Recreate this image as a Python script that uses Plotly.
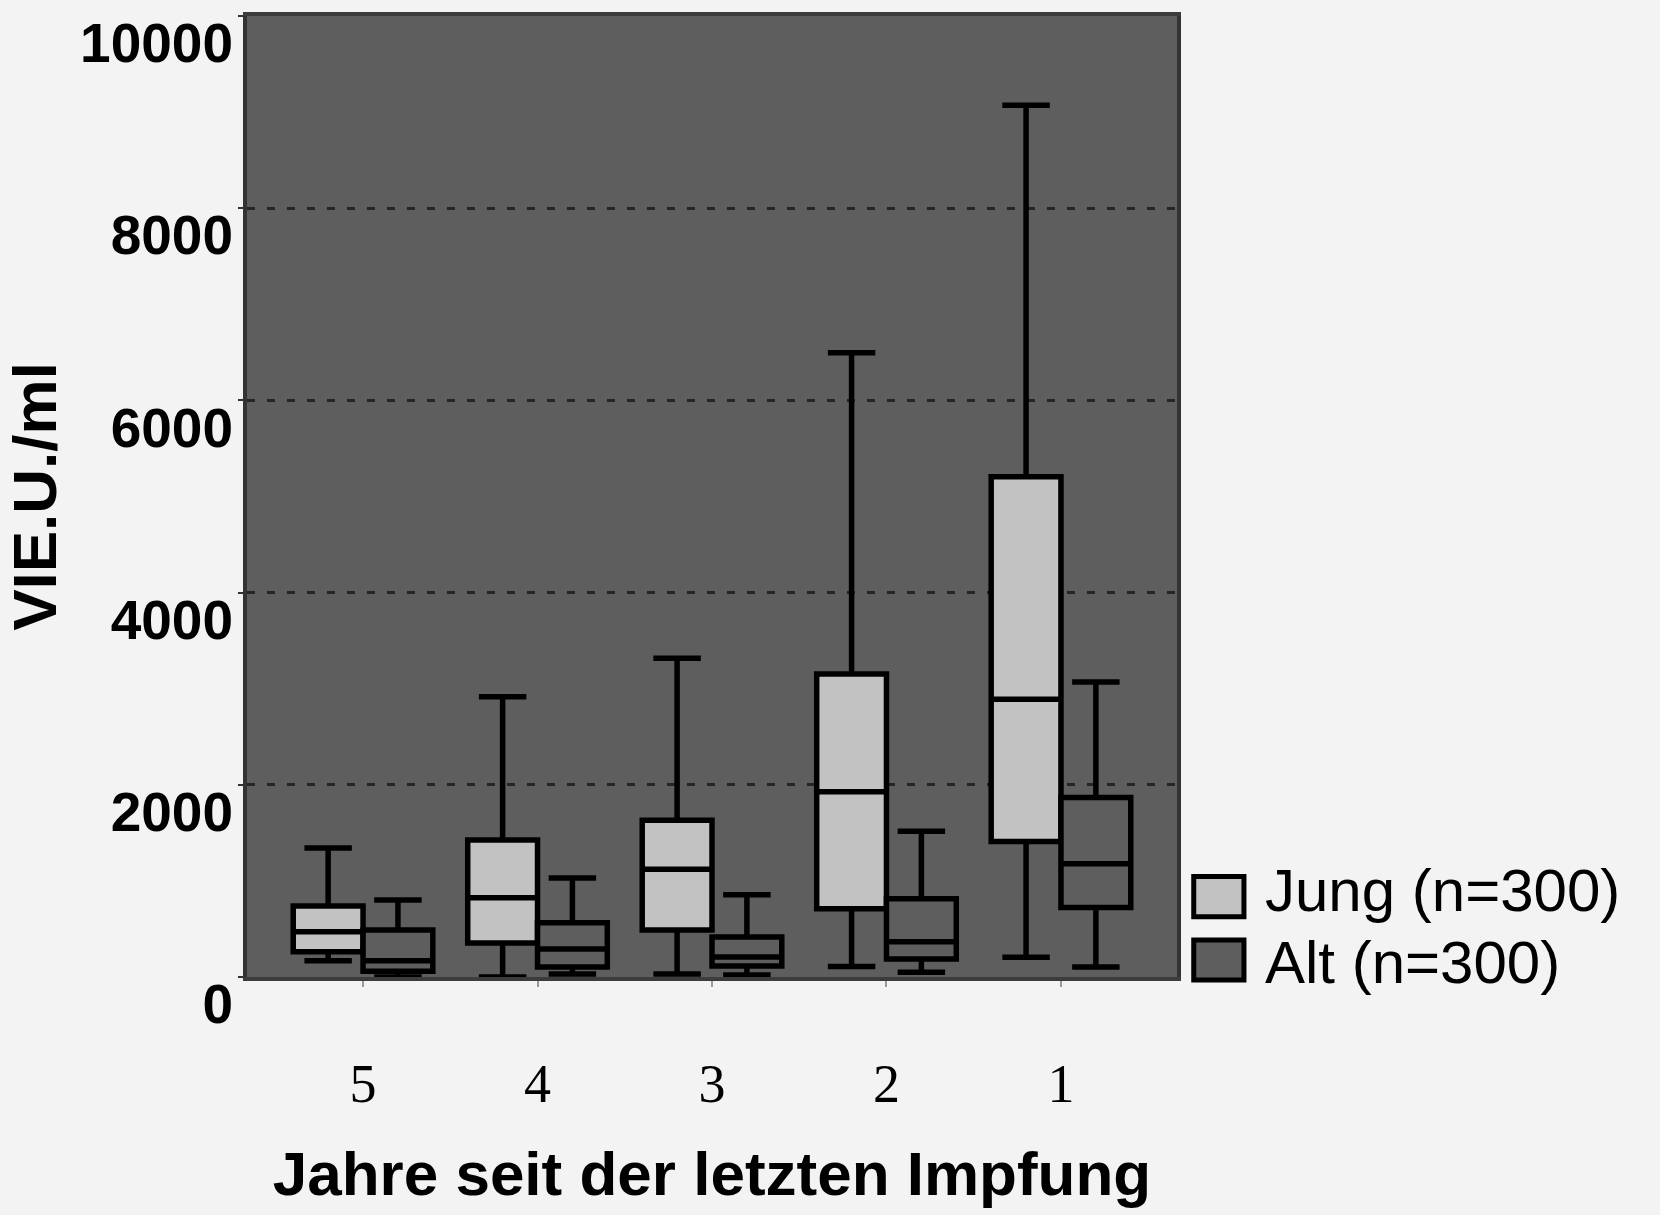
import plotly.graph_objects as go

categories = ["5", "4", "3", "2", "1"]
series_names = ["Jung (n=300)", "Alt (n=300)"]

jung_lowerfence = [170, 0, 31, 110, 205]
jung_q1 = [263, 353, 489, 710, 1410]
jung_median = [471, 825, 1120, 1928, 2890]
jung_q3 = [740, 1425, 1632, 3152, 5205]
jung_upperfence = [1342, 2917, 3317, 6495, 9070]

alt_lowerfence = [0, 30, 20, 50, 105]
alt_q1 = [60, 104, 114, 187, 722]
alt_median = [170, 291, 208, 367, 1178]
alt_q3 = [489, 565, 415, 815, 1867]
alt_upperfence = [800, 1030, 856, 1517, 3070]

y_ticks = [0, 2000, 4000, 6000, 8000, 10000]

PAGE_BG = "#f3f3f3"
PLOT_BG = "#5e5e5e"
JUNG_FILL = "#c2c2c2"
ALT_FILL = "#5e5e5e"

fig = go.Figure()
fig.add_trace(go.Box(
    name=series_names[0], x=categories,
    q1=jung_q1, median=jung_median, q3=jung_q3,
    lowerfence=jung_lowerfence, upperfence=jung_upperfence,
    fillcolor=JUNG_FILL, line=dict(color="black", width=5.5),
    whiskerwidth=0.68, showlegend=False, boxpoints=False,
))
fig.add_trace(go.Box(
    name=series_names[1], x=categories,
    q1=alt_q1, median=alt_median, q3=alt_q3,
    lowerfence=alt_lowerfence, upperfence=alt_upperfence,
    fillcolor=ALT_FILL, line=dict(color="black", width=5.5),
    whiskerwidth=0.68, showlegend=False, boxpoints=False,
))

# manual legend with large swatches
legend_fills = [JUNG_FILL, ALT_FILL]
legend_y = [(0.1045, 0.0626), (0.0385, -0.003)]
legend_text_y = [0.0905, 0.0155]
for name, fill, (y1, y0), ty in zip(series_names, legend_fills, legend_y, legend_text_y):
    fig.add_shape(type="rect", xref="paper", yref="paper",
                  x0=1.018, x1=1.072, y0=y0, y1=y1,
                  fillcolor=fill, line=dict(color="black", width=5))
    fig.add_annotation(xref="paper", yref="paper", x=1.092, y=ty,
                       text=name, showarrow=False, xanchor="left", yanchor="middle",
                       font=dict(family="Liberation Sans, Arial, sans-serif", size=60, color="black"))

fig.update_layout(
    width=1660, height=1215,
    margin=dict(l=247, r=483, t=16, b=238),
    paper_bgcolor=PAGE_BG, plot_bgcolor=PLOT_BG,
    boxmode="group", boxgap=0.2, boxgroupgap=0.0,
    showlegend=False,
)
fig.update_xaxes(
    type="category", range=[-0.665, 4.665],
    showgrid=False, zeroline=False,
    showline=True, linecolor="#3c3c3c", linewidth=4, mirror=True,
    ticks="outside", ticklen=6, tickwidth=2, tickcolor="#9a9a9a",
    ticklabelstandoff=50,
    tickfont=dict(family="Liberation Serif, Times New Roman, serif", size=54, color="black"),
    title=dict(text="<b>Jahre seit der letzten Impfung</b>", standoff=40,
               font=dict(family="Liberation Sans Narrow, Arial Narrow, Liberation Sans, sans-serif",
                         size=62, color="black")),
)
fig.update_yaxes(
    range=[0, 10000], tickvals=y_ticks, ticktext=[f"<b>{v}</b>" for v in y_ticks],
    showgrid=True, gridcolor="#262626", gridwidth=3, griddash="8px,12px",
    zeroline=False,
    showline=True, linecolor="#333333", linewidth=4, mirror=True,
    ticks="outside", ticklen=5, tickwidth=2, tickcolor="#333333",
    ticklabelshift=27, ticklabelstandoff=-6,
    tickfont=dict(family="Liberation Sans, Arial, sans-serif", size=55, color="black"),
    title=dict(text="<b>VIE.U./ml</b>", standoff=20,
               font=dict(family="Liberation Sans, Arial, sans-serif", size=62, color="black")),
)

fig.write_html("out.html")
